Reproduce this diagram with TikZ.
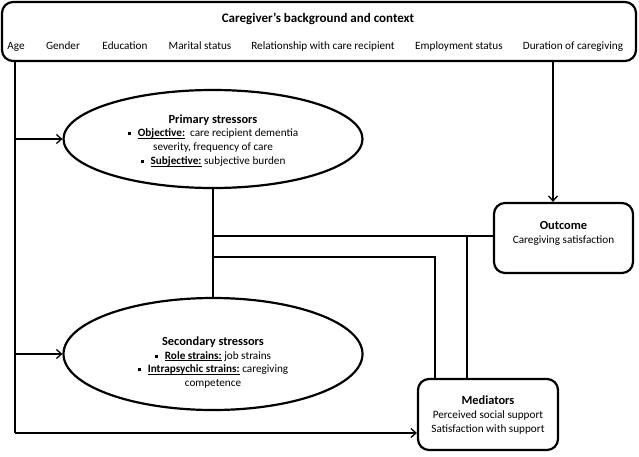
\documentclass[tikz,border=0pt]{standalone}
\usepackage{fontspec}
\setmainfont{Carlito}
\usetikzlibrary{shapes.geometric,arrows.meta}
\newcommand{\sqb}{\raisebox{1.5pt}{\rule{3pt}{3pt}}\hspace{7pt}}
\newcommand{\uln}[1]{\setbox0\hbox{#1}\rlap{\rule[-1.8pt]{\wd0}{0.7pt}}\box0\relax}
\begin{document}
\begin{tikzpicture}[x=1pt,y=-1pt,
  box/.style={draw,line width=2.2pt,rounded corners=11pt,inner sep=0pt},
  oval/.style={draw,ellipse,line width=2.2pt,inner sep=0pt},
  conn/.style={line width=1.3pt},
  arr/.style={conn,-{Straight Barb[length=5pt,width=9pt,line width=1.3pt]}},
  txt/.style={font=\fontsize{11.2}{13.9}\selectfont,align=center,inner sep=0pt},
  ttl/.style={font=\fontsize{13}{14}\selectfont\bfseries,inner sep=0pt},
  item/.style={font=\fontsize{11.2}{13}\selectfont,inner sep=0pt,anchor=base}
]
\useasboundingbox (0,0) rectangle (639,456);
\fill[white] (0,0) rectangle (639,456);

% top box
\node[box,minimum width=634pt,minimum height=59pt] (top) at (319,31.5) {};
\node[ttl,anchor=base] (toptitle) at (318,22) {Caregiver’s background and context};
\node[item] (age) at (16,49) {Age};
\node[item] (gen) at (63,49) {Gender};
\node[item] (edu) at (125,49) {Education};
\node[item] (mar) at (200,49) {Marital status};
\node[item] (rel) at (323,49) {Relationship with care recipient};
\node[item] (emp) at (459,49) {Employment status};
\node[item] (dur) at (573,49) {Duration of caregiving};

% primary stressors
\node[oval,minimum width=299pt,minimum height=98pt] (prim) at (213,139) {};
\node[txt] (primtext) at (213,140.5) {{\fontsize{12.4}{13.9}\selectfont\bfseries Primary stressors}\\
  \sqb\uln{\bfseries Objective:}~ care recipient dementia\\
  severity, frequency of care\\
  \sqb\uln{\bfseries Subjective:} subjective burden};

% secondary stressors
\node[oval,minimum width=299pt,minimum height=112pt] (sec) at (213,354) {};
\node[txt] (sectext) at (213,362.5) {{\fontsize{12.4}{13.9}\selectfont\bfseries Secondary stressors}\\
  \sqb\uln{\bfseries Role strains:} job strains\\
  \sqb\uln{\bfseries Intrapsychic strains:} caregiving\\
  competence};

% outcome
\node[box,minimum width=139pt,minimum height=70pt] (out) at (563.5,238) {};
\node[txt] (outtext) at (563.5,233.5) {{\fontsize{12.4}{13.9}\selectfont\bfseries Outcome}\\ Caregiving satisfaction};

% mediators
\node[box,minimum width=140pt,minimum height=71pt] (med) at (488,414.5) {};
\node[txt] (medtext) at (488,415) {{\fontsize{12.4}{13.9}\selectfont\bfseries Mediators}\\ Perceived social support\\ Satisfaction with support};

% helper coordinates
\coordinate (cL) at (15,433);
\coordinate (cR) at (553,0);
\coordinate (h1) at (213,236);
\coordinate (h2) at (213,257);
\coordinate (v1) at (435,0);
\coordinate (v2) at (467,0);

% connectors
\draw[conn] (top.south -| cL) -- (cL);
\draw[arr] (cL) -- (cL -| med.west);
\draw[arr] (prim.west -| cL) -- (prim.west);
\draw[arr] (sec.west -| cL) -- (sec.west);
\draw[arr] (top.south -| cR) -- (out.north -| cR);
\draw[conn] (prim.south) -- (sec.north);
\draw[conn] (h1) -- (h1 -| out.west);
\draw[conn] (h2) -- (h2 -| v1) -- (med.north -| v1);
\draw[conn] (h1 -| v2) -- (med.north -| v2);
\end{tikzpicture}
\end{document}
